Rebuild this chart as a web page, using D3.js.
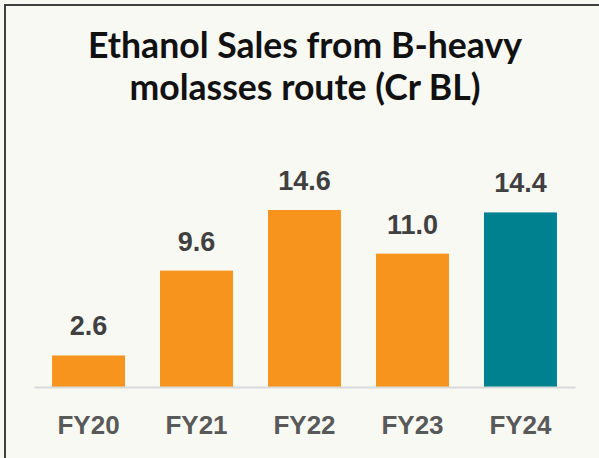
<!DOCTYPE html>
<html>
<head>
<meta charset="utf-8">
<script src="https://cdn.jsdelivr.net/npm/d3@7"></script>
<style>
  body { margin: 0; background: #f9f9f4; }
  svg { display: block; }
</style>
</head>
<body>
<div id="canvas"></div>
<script>
// values
const years = ["FY20", "FY21", "FY22", "FY23", "FY24"];
const sales = [2.6, 9.6, 14.6, 11.0, 14.4];
const titleLines = ["Ethanol Sales from B-heavy", "molasses route (Cr BL)"];

const width = 599;
const height = 458;

const svg = d3.select("#canvas").append("svg")
  .attr("width", width)
  .attr("height", height);

svg.append("rect")
  .attr("width", width).attr("height", height)
  .attr("fill", "#f9f9f4");

// frame: only left and top edges are visible in the crop
svg.append("path")
  .attr("d", "M5,458 V5 H599")
  .attr("fill", "none")
  .attr("stroke", "#3f3f3f")
  .attr("stroke-width", 2);

// title
const title = svg.append("g");
title.selectAll("text").data(titleLines).enter().append("text")
  .attr("x", 305)
  .attr("y", (d, i) => 58 + i * 42)
  .attr("text-anchor", "middle")
  .style("font-family", "Lato, 'Open Sans', sans-serif")
  .style("font-weight", "700")
  .style("font-size", "30px")
  .style("fill", "#111")
  .text(d => d);

// fit the first line to the reference width
const t0 = title.select("text").node().getComputedTextLength();
const fs = 30 * 434 / t0;
title.selectAll("text").style("font-size", fs + "px");

const baseY = 387;

const x = d3.scaleBand()
  .domain(years)
  .range([34, 575])
  .paddingInner(0.324)
  .paddingOuter(0.167);

const y = d3.scaleLinear()
  .domain([0, 14.6])
  .range([baseY, 210]);

const g = svg.append("g");

g.selectAll("rect.bar").data(years).enter().append("rect")
  .attr("class", "bar")
  .attr("x", d => x(d))
  .attr("width", x.bandwidth())
  .attr("y", (d, i) => y(sales[i]))
  .attr("height", (d, i) => baseY - y(sales[i]))
  .attr("fill", (d, i) => i === years.length - 1 ? "#00818f" : "#f7941d");

g.selectAll("text.val").data(years).enter().append("text")
  .attr("class", "val")
  .attr("x", d => x(d) + x.bandwidth() / 2)
  .attr("y", (d, i) => y(sales[i]) - 20)
  .attr("text-anchor", "middle")
  .style("font-family", "'Liberation Sans', Arial, sans-serif")
  .style("font-weight", "700")
  .style("font-size", "27px")
  .style("fill", "#404040")
  .text((d, i) => sales[i].toFixed(1));

// baseline axis
const axis = g.append("g")
  .attr("transform", `translate(0,${baseY})`)
  .call(d3.axisBottom(x).tickSize(0).tickPadding(0));

axis.select(".domain")
  .attr("stroke", "#d9d9d9")
  .attr("stroke-width", 2);

axis.selectAll(".tick text")
  .attr("dy", 0)
  .attr("y", 47)
  .style("font-family", "'Liberation Sans', Arial, sans-serif")
  .style("font-weight", "700")
  .style("font-size", "26px")
  .style("fill", "#595959");
</script>
</body>
</html>
